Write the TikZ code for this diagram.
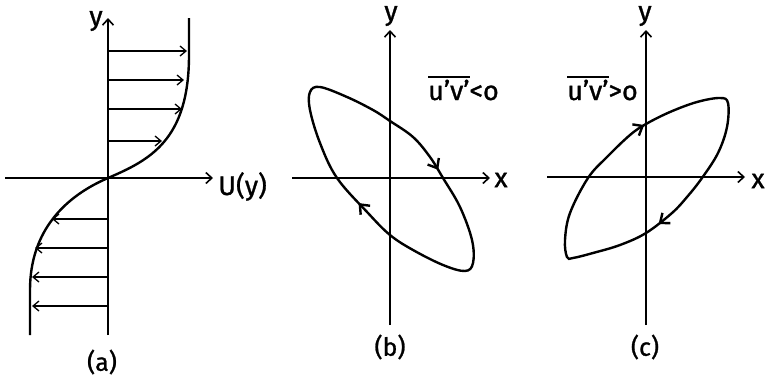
\documentclass[tikz,border=0pt]{standalone}
\usepackage{fontspec}
\setmainfont{Fira Sans}
\newfontfamily\lettering{Fira Sans}[FakeBold=1]
\usetikzlibrary{arrows.meta,decorations.markings}
\newcommand\uvbar[1]{\setbox0\hbox{#1}\rlap{\rule[\dimexpr\ht0+2pt\relax]{\wd0}{1.8pt}}\box0}
\begin{document}
\begin{tikzpicture}[
  x=1pt,y=-1pt,
  axis/.style={line width=1.6pt, -{Straight Barb[length=6pt,width=11pt]}},
  vel/.style={line width=1.3pt, -{Straight Barb[length=6pt,width=10pt]}},
  curve/.style={line width=2.4pt},
  loop/.style 2 args={curve, postaction={decorate}, decoration={markings,
      mark=at position #1 with {\arrow{Straight Barb[length=8pt,width=13pt]}},
      mark=at position #2 with {\arrow{Straight Barb[length=8pt,width=13pt]}}}},
  lbl/.style={font=\lettering\fontsize{27}{30}\selectfont, inner sep=0pt},
  tag/.style={font=\lettering\fontsize{25}{28}\selectfont, inner sep=0pt}
]
\useasboundingbox (0,0) rectangle (765,386);

\draw[axis] (108,335) -- (108,18);
\draw[axis] (5,178) -- (213,178);
\foreach \y/\u in {51/187, 80/184, 109/182, 141/162, 219/52, 248/35, 277/32, 306/32}
  \draw[vel] (108,\y) -- (\u,\y);
\draw[curve] (189,18) -- (189,55) .. controls (189,140) and (150,160) .. (108,178)
  .. controls (66,196) and (30,230) .. (30,290) -- (30,335);
\node[lbl] (ya) at (96,21) {y};
\node[lbl, anchor=base west] (Ua) at (218,195) {U(y)};
\node[tag] (capa) at (102,362) {(a)};

\draw[axis] (390,325) -- (390,30);
\draw[axis] (292,178) -- (490,178);
\draw[loop={0.28}{0.74}] plot[smooth cycle, tension=0.6] coordinates {(310,92) (320,87)
  (347,97) (373,110) (390,121) (413,137) (430,157) (443,178) (460,207) (472,240)
  (473,263) (465,271) (443,265) (413,250) (390,235) (368,213) (337,178) (320,143) (310,110)};
\node[lbl] (yb) at (391,16) {y};
\node[lbl] (xb) at (501,180) {x};
\node[lbl, anchor=base west] (uvb) at (428,100) {\uvbar{u’v’}<o};
\node[tag] (capb) at (390,347) {(b)};

\draw[axis] (646,325) -- (646,30);
\draw[axis] (547,177) -- (745,177);
\draw[loop={0.29}{0.765}] plot[smooth cycle, tension=0.6] coordinates {(567,257) (565,240)
  (570,213) (588,178) (607,157) (630,135) (646,124) (670,112) (697,102) (720,98)
  (728,103) (727,127) (718,153) (702,178) (687,197) (672,213) (646,233) (620,245)
  (593,253) (573,258)};
\node[lbl] (yc) at (645,16) {y};
\node[lbl] (xc) at (758,181) {x};
\node[lbl, anchor=base west] (uvc) at (567,100) {\uvbar{u’v’}>o};
\node[tag] (capc) at (645,347) {(c)};
\end{tikzpicture}
\end{document}
